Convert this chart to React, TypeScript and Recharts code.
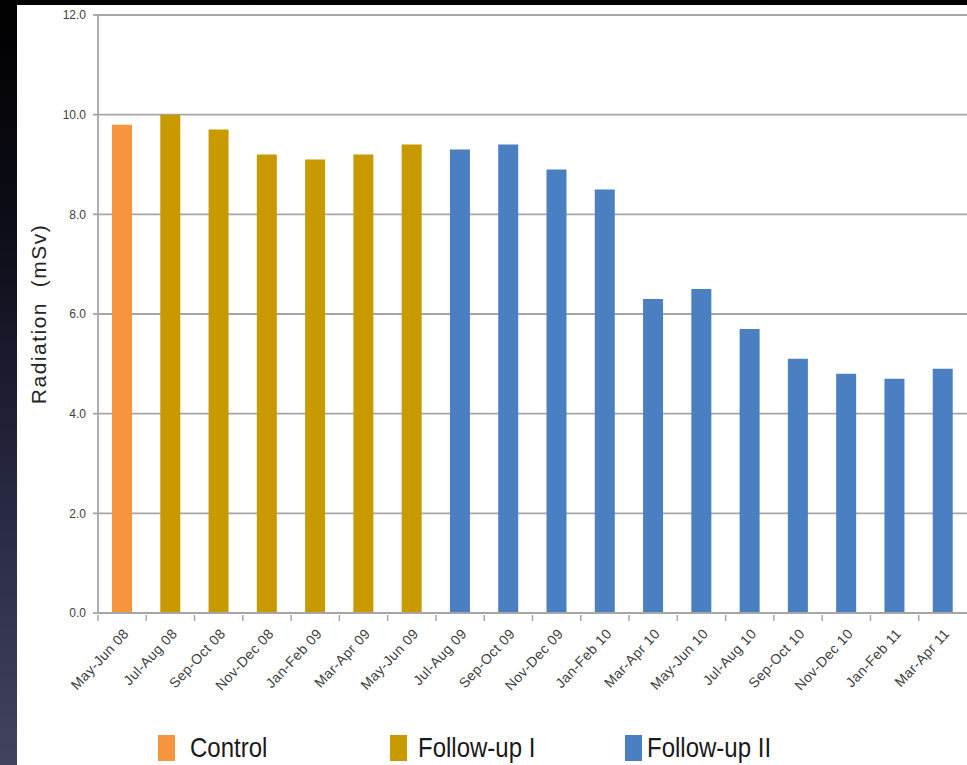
import React from "react";
import { BarChart, Bar, Cell, XAxis, YAxis, CartesianGrid } from "recharts";

// Two-month collection periods along the x axis.
const periods = [
  "May-Jun 08", "Jul-Aug 08", "Sep-Oct 08", "Nov-Dec 08", "Jan-Feb 09", "Mar-Apr 09",
  "May-Jun 09", "Jul-Aug 09", "Sep-Oct 09", "Nov-Dec 09", "Jan-Feb 10", "Mar-Apr 10",
  "May-Jun 10", "Jul-Aug 10", "Sep-Oct 10", "Nov-Dec 10", "Jan-Feb 11", "Mar-Apr 11",
];

// Study phase each period belongs to.
const periodGroups = [
  "Control",
  "Follow-up I", "Follow-up I", "Follow-up I", "Follow-up I", "Follow-up I", "Follow-up I",
  "Follow-up II", "Follow-up II", "Follow-up II", "Follow-up II", "Follow-up II", "Follow-up II",
  "Follow-up II", "Follow-up II", "Follow-up II", "Follow-up II", "Follow-up II",
];

// Mean radiation dose per period (mSv).
const radiation = [9.8, 10.0, 9.7, 9.2, 9.1, 9.2, 9.4, 9.3, 9.4, 8.9, 8.5, 6.3, 6.5, 5.7, 5.1, 4.8, 4.7, 4.9];

const yTicks = [0, 2, 4, 6, 8, 10, 12];

const legendGroups = ["Control", "Follow-up I", "Follow-up II"];
const groupColors: Record<string, string> = {
  Control: "#f7953f",
  "Follow-up I": "#c99a00",
  "Follow-up II": "#4a7fc2",
};

const data = periods.map((period, i) => ({
  period,
  group: periodGroups[i],
  value: radiation[i],
}));

const FONT = "'Liberation Sans', Arial, sans-serif";
const AXIS_GRAY = "#a6a6a6";

// Tick marks sit on category boundaries; labels are slanted under each bar.
const PeriodTick = (props: any) => {
  const { x, y, payload } = props;
  const half = payload && payload.offset ? payload.offset : 24;
  const tx = x + 4;
  const ty = y + 10;
  return (
    <g>
      <line x1={x - half} x2={x - half} y1={y - 6} y2={y} stroke={AXIS_GRAY} strokeWidth={1.5} />
      <text
        x={tx}
        y={ty}
        dy="0.35em"
        textAnchor="end"
        transform={`rotate(-47, ${tx}, ${ty})`}
        fill="#404040"
        fontSize={14}
        letterSpacing={0.4}
        fontFamily={FONT}
      >
        {payload.value}
      </text>
    </g>
  );
};

const legendPos = [
  { box: 141, text: 173 },
  { box: 373, text: 401 },
  { box: 608, text: 630 },
];

const App = () => {
  return (
    <div
      style={{
        position: "fixed",
        left: 0,
        top: 0,
        width: 967,
        height: 765,
        overflow: "hidden",
        background: "linear-gradient(to bottom, #000000 0%, #0d0d18 30%, #2a2c48 70%, #42445f 100%)",
      }}
    >
      <div
        style={{
          position: "absolute",
          left: 17,
          top: 5,
          width: 950,
          height: 760,
          background: "#ffffff",
          overflow: "hidden",
        }}
      >
        <BarChart
          width={950}
          height={720}
          data={data}
          margin={{ top: 10, right: 0, bottom: 0, left: 0 }}
          barSize={20}
        >
          <CartesianGrid vertical={false} stroke={AXIS_GRAY} strokeWidth={1.8} />
          <XAxis
            dataKey="period"
            interval={0}
            height={112}
            stroke={AXIS_GRAY}
            strokeWidth={1.8}
            tickLine={false}
            tick={<PeriodTick />}
          />
          <YAxis
            domain={[0, 12]}
            ticks={yTicks}
            width={81}
            stroke={AXIS_GRAY}
            strokeWidth={1.8}
            tickSize={5}
            tickMargin={7}
            tickFormatter={(v: number) => v.toFixed(1)}
            tick={{ fill: "#404040", fontSize: 12, fontFamily: FONT }}
            label={{
              value: "Radiation\u00a0\u00a0(mSv)",
              angle: -90,
              position: "insideLeft",
              offset: 22,
              fill: "#262626",
              fontSize: 21,
              fontFamily: FONT,
              style: { textAnchor: "middle", letterSpacing: "1.5px" },
            }}
          />
          <Bar dataKey="value" isAnimationActive={false}>
            {data.map((d, i) => (
              <Cell key={`bar-${i}`} fill={groupColors[d.group]} />
            ))}
          </Bar>
        </BarChart>

        {legendGroups.map((g, i) => (
          <React.Fragment key={g}>
            <div
              style={{
                position: "absolute",
                left: legendPos[i].box,
                top: 730,
                width: 17,
                height: 26,
                background: groupColors[g],
              }}
            />
            <div
              style={{
                position: "absolute",
                left: legendPos[i].text,
                top: 727,
                fontFamily: FONT,
                fontSize: 24,
                lineHeight: "28px",
                color: "#1a1a1a",
                whiteSpace: "nowrap",
                transform: "scaleY(1.12)",
                transformOrigin: "left top",
              }}
            >
              {g}
            </div>
          </React.Fragment>
        ))}
      </div>
    </div>
  );
};

export default App;
